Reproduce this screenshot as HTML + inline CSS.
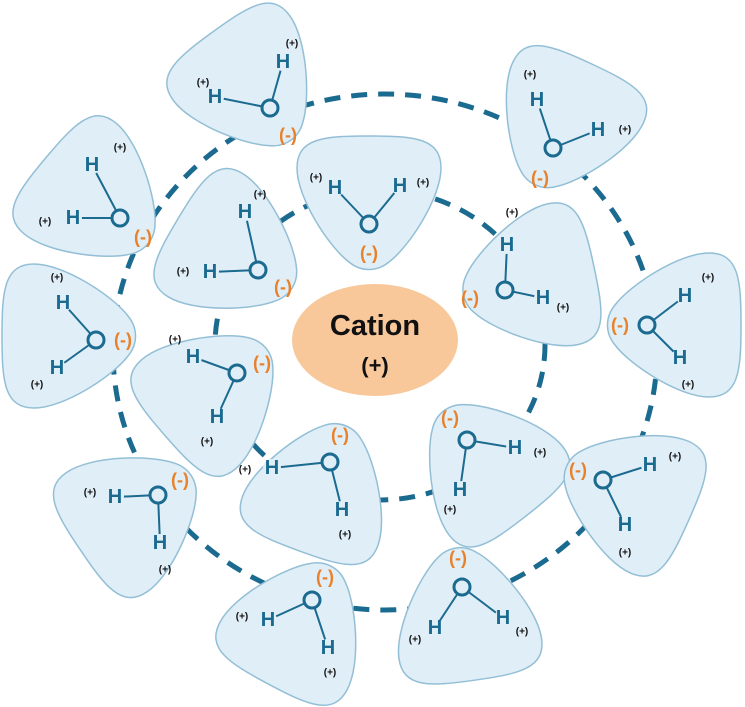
<!DOCTYPE html>
<html><head><meta charset="utf-8"><style>
html,body{margin:0;padding:0;background:#fff}
svg{display:block}
.h{font:bold 20px "Liberation Sans",sans-serif;fill:#1b6a8f;text-anchor:middle;dominant-baseline:central}
.m{font:bold 18px "Liberation Sans",sans-serif;fill:#e8812a;text-anchor:middle;dominant-baseline:central}
.p{font:600 10px "Liberation Sans",sans-serif;fill:#111;text-anchor:middle;dominant-baseline:central}
.b{stroke:#1b6a8f;stroke-width:2}
.o{fill:#e0eef7;stroke:#1b6a8f;stroke-width:3}
.k{fill:#e0eef7}
.bl{fill:#e0eef7;stroke:#93bfd6;stroke-width:1.5}
</style></head><body>
<svg width="745" height="707" viewBox="0 0 745 707" xmlns="http://www.w3.org/2000/svg">
<defs>
<path id="blob" d="M -20,42 C -40,27 -72,-22 -72,-52 C -72,-82 -45,-84 0,-84 C 45,-84 72,-82 72,-52 C 72,-22 40,27 20,42 C 8,52 -8,52 -20,42 Z"/>
</defs>
<ellipse cx="385" cy="352" rx="272" ry="258" fill="none" stroke="#1b6a8f" stroke-width="5" stroke-dasharray="16 11"/>
<ellipse cx="380" cy="345" rx="165" ry="155" fill="none" stroke="#1b6a8f" stroke-width="5" stroke-dasharray="16 11"/>

<ellipse cx="375" cy="340" rx="83" ry="56" fill="#f8c79a"/>
<text x="375" y="335" font-family="Liberation Sans, sans-serif" font-weight="bold" font-size="29" text-anchor="middle" fill="#111">Cation</text>
<text x="375" y="373" font-family="Liberation Sans, sans-serif" font-weight="bold" font-size="22" text-anchor="middle" fill="#111">(+)</text>

<g class="bl">
<use href="#blob" transform="translate(262,100) rotate(-36)"/>
<use href="#blob" transform="translate(556,140) rotate(25)"/>
<use href="#blob" transform="translate(110,212) rotate(-50)"/>
<use href="#blob" transform="translate(250,262) rotate(-59)"/>
<use href="#blob" transform="translate(369,220) rotate(0)"/>
<use href="#blob" transform="translate(512,285) rotate(78)"/>
<use href="#blob" transform="translate(657,325) rotate(90)"/>
<use href="#blob" transform="translate(86,336) rotate(-90)"/>
<use href="#blob" transform="translate(228,380) rotate(-131)"/>
<use href="#blob" transform="translate(328,472) rotate(-160)"/>
<use href="#blob" transform="translate(474,450) rotate(142)"/>
<use href="#blob" transform="translate(612,486) rotate(114)"/>
<use href="#blob" transform="translate(150,503) rotate(-124)"/>
<use href="#blob" transform="translate(308,610) rotate(-152)"/>
<use href="#blob" transform="translate(463,597) rotate(172)"/>
</g>

<g class="b">
<line x1="270" y1="108" x2="215" y2="97"/><line x1="270" y1="108" x2="283" y2="62"/>
<line x1="553" y1="148" x2="537" y2="100"/><line x1="553" y1="148" x2="598" y2="130"/>
<line x1="120" y1="218" x2="73" y2="218"/><line x1="120" y1="218" x2="92" y2="165"/>
<line x1="258" y1="270" x2="210" y2="272"/><line x1="258" y1="270" x2="245" y2="212"/>
<line x1="369" y1="224" x2="335" y2="188"/><line x1="369" y1="224" x2="400" y2="186"/>
<line x1="505" y1="290" x2="507" y2="245"/><line x1="505" y1="290" x2="543" y2="298"/>
<line x1="647" y1="325" x2="685" y2="296"/><line x1="647" y1="325" x2="680" y2="358"/>
<line x1="96" y1="340" x2="63" y2="303"/><line x1="96" y1="340" x2="57" y2="368"/>
<line x1="237" y1="373" x2="193" y2="357"/><line x1="237" y1="373" x2="217" y2="417"/>
<line x1="330" y1="462" x2="272" y2="468"/><line x1="330" y1="462" x2="342" y2="510"/>
<line x1="467" y1="440" x2="515" y2="448"/><line x1="467" y1="440" x2="460" y2="490"/>
<line x1="603" y1="480" x2="650" y2="465"/><line x1="603" y1="480" x2="625" y2="525"/>
<line x1="158" y1="495" x2="115" y2="497"/><line x1="158" y1="495" x2="160" y2="543"/>
<line x1="312" y1="600" x2="268" y2="620"/><line x1="312" y1="600" x2="328" y2="648"/>
<line x1="462" y1="587" x2="435" y2="628"/><line x1="462" y1="587" x2="503" y2="618"/>
</g>
<g class="k">
<circle cx="215" cy="97" r="9"/><circle cx="283" cy="62" r="9"/>
<circle cx="537" cy="100" r="9"/><circle cx="598" cy="130" r="9"/>
<circle cx="73" cy="218" r="9"/><circle cx="92" cy="165" r="9"/>
<circle cx="210" cy="272" r="9"/><circle cx="245" cy="212" r="9"/>
<circle cx="335" cy="188" r="9"/><circle cx="400" cy="186" r="9"/>
<circle cx="507" cy="245" r="9"/><circle cx="543" cy="298" r="9"/>
<circle cx="685" cy="296" r="9"/><circle cx="680" cy="358" r="9"/>
<circle cx="63" cy="303" r="9"/><circle cx="57" cy="368" r="9"/>
<circle cx="193" cy="357" r="9"/><circle cx="217" cy="417" r="9"/>
<circle cx="272" cy="468" r="9"/><circle cx="342" cy="510" r="9"/>
<circle cx="515" cy="448" r="9"/><circle cx="460" cy="490" r="9"/>
<circle cx="650" cy="465" r="9"/><circle cx="625" cy="525" r="9"/>
<circle cx="115" cy="497" r="9"/><circle cx="160" cy="543" r="9"/>
<circle cx="268" cy="620" r="9"/><circle cx="328" cy="648" r="9"/>
<circle cx="435" cy="628" r="9"/><circle cx="503" cy="618" r="9"/>
</g>
<g class="h">
<text x="215" y="97">H</text><text x="283" y="62">H</text>
<text x="537" y="100">H</text><text x="598" y="130">H</text>
<text x="73" y="218">H</text><text x="92" y="165">H</text>
<text x="210" y="272">H</text><text x="245" y="212">H</text>
<text x="335" y="188">H</text><text x="400" y="186">H</text>
<text x="507" y="245">H</text><text x="543" y="298">H</text>
<text x="685" y="296">H</text><text x="680" y="358">H</text>
<text x="63" y="303">H</text><text x="57" y="368">H</text>
<text x="193" y="357">H</text><text x="217" y="417">H</text>
<text x="272" y="468">H</text><text x="342" y="510">H</text>
<text x="515" y="448">H</text><text x="460" y="490">H</text>
<text x="650" y="465">H</text><text x="625" y="525">H</text>
<text x="115" y="497">H</text><text x="160" y="543">H</text>
<text x="268" y="620">H</text><text x="328" y="648">H</text>
<text x="435" y="628">H</text><text x="503" y="618">H</text>
</g>
<g class="o">
<circle cx="270" cy="108" r="8"/><circle cx="553" cy="148" r="8"/><circle cx="120" cy="218" r="8"/>
<circle cx="258" cy="270" r="8"/><circle cx="369" cy="224" r="8"/><circle cx="505" cy="290" r="8"/>
<circle cx="647" cy="325" r="8"/><circle cx="96" cy="340" r="8"/><circle cx="237" cy="373" r="8"/>
<circle cx="330" cy="462" r="8"/><circle cx="467" cy="440" r="8"/><circle cx="603" cy="480" r="8"/>
<circle cx="158" cy="495" r="8"/><circle cx="312" cy="600" r="8"/><circle cx="462" cy="587" r="8"/>
</g>
<g class="m">
<text x="288" y="135">(-)</text><text x="540" y="178">(-)</text><text x="143" y="237">(-)</text>
<text x="283" y="287">(-)</text><text x="369" y="253">(-)</text><text x="470" y="298">(-)</text>
<text x="620" y="325">(-)</text><text x="123" y="340">(-)</text><text x="262" y="363">(-)</text>
<text x="340" y="435">(-)</text><text x="450" y="418">(-)</text><text x="578" y="470">(-)</text>
<text x="180" y="480">(-)</text><text x="325" y="577">(-)</text><text x="458" y="558">(-)</text>
</g>
<g class="p">
<text x="203" y="83">(+)</text><text x="292" y="44">(+)</text>
<text x="530" y="75">(+)</text><text x="625" y="130">(+)</text>
<text x="45" y="222">(+)</text><text x="120" y="148">(+)</text>
<text x="183" y="272">(+)</text><text x="260" y="195">(+)</text>
<text x="316" y="178">(+)</text><text x="423" y="183">(+)</text>
<text x="512" y="213">(+)</text><text x="563" y="308">(+)</text>
<text x="708" y="278">(+)</text><text x="688" y="385">(+)</text>
<text x="57" y="278">(+)</text><text x="37" y="385">(+)</text>
<text x="175" y="340">(+)</text><text x="207" y="442">(+)</text>
<text x="245" y="470">(+)</text><text x="345" y="535">(+)</text>
<text x="540" y="453">(+)</text><text x="450" y="510">(+)</text>
<text x="675" y="457">(+)</text><text x="625" y="553">(+)</text>
<text x="90" y="493">(+)</text><text x="165" y="570">(+)</text>
<text x="242" y="617">(+)</text><text x="330" y="673">(+)</text>
<text x="415" y="640">(+)</text><text x="522" y="632">(+)</text>
</g>
</svg>
</body></html>
